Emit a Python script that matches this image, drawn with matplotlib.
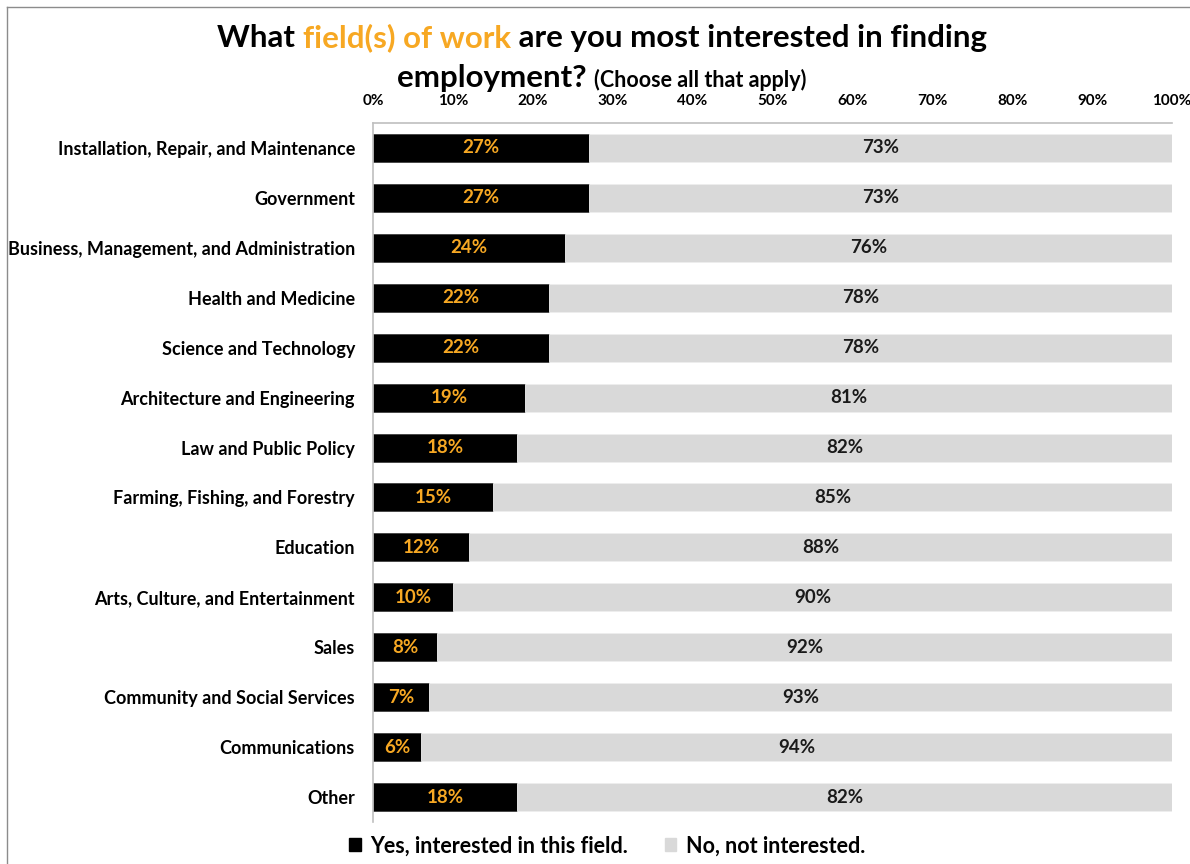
import matplotlib
matplotlib.use("Agg")
import matplotlib.pyplot as plt
from matplotlib.lines import Line2D
from matplotlib.patches import Patch
from matplotlib.ticker import PercentFormatter

plt.rcParams['font.family'] = ['Lato', 'DejaVu Sans']
plt.rcParams['font.weight'] = 'bold'

categories = [
    "Installation, Repair, and Maintenance",
    "Government",
    "Business, Management, and Administration",
    "Health and Medicine",
    "Science and Technology",
    "Architecture and Engineering",
    "Law and Public Policy",
    "Farming, Fishing, and Forestry",
    "Education",
    "Arts, Culture, and Entertainment",
    "Sales",
    "Community and Social Services",
    "Communications",
    "Other",
]
yes_pct = [27, 27, 24, 22, 22, 19, 18, 15, 12, 10, 8, 7, 6, 18]
no_pct = [73, 73, 76, 78, 78, 81, 82, 85, 88, 90, 92, 93, 94, 82]
ticks = [0, 10, 20, 30, 40, 50, 60, 70, 80, 90, 100]

ORANGE = '#F7A823'
GREY = '#D9D9D9'

fig = plt.figure(figsize=(11.9, 8.64), dpi=100)
ax = fig.add_axes([373/1190, 1 - 822/864, (1172-373)/1190, (822-123)/864])

y = list(range(len(categories)))
ax.barh(y, yes_pct, height=0.56, color='black', edgecolor='#404040', linewidth=0.6,
        label='Yes, interested in this field.')
ax.barh(y, no_pct, left=yes_pct, height=0.56, color=GREY, edgecolor='#EEEEEE', linewidth=0.6,
        label='No, not interested.')

for i, (a, b) in enumerate(zip(yes_pct, no_pct)):
    ax.text(a / 2, i, f"{a}%", ha='center', va='center', color=ORANGE,
            fontsize=13.5, fontweight='bold')
    ax.text(a + b / 2, i, f"{b}%", ha='center', va='center', color='#1a1a1a',
            fontsize=13.5, fontweight='bold')

ax.set_xlim(0, 100)
ax.set_ylim(len(categories) - 0.5, -0.5)
ax.set_yticks(y)
ax.set_yticklabels(categories, fontsize=13, fontweight='bold')
ax.set_xticks(ticks)
ax.xaxis.set_major_formatter(PercentFormatter(decimals=0))
ax.xaxis.tick_top()
ax.tick_params(axis='x', length=0, pad=11, labelsize=11)
ax.tick_params(axis='y', length=0, pad=13)
for lbl in ax.get_xticklabels():
    lbl.set_fontweight('bold')
for s in ['right', 'bottom']:
    ax.spines[s].set_visible(False)
ax.spines['top'].set_color('#BFBFBF')
ax.spines['left'].set_color('#BFBFBF')
ax.spines['top'].set_linewidth(1.2)
ax.spines['left'].set_linewidth(1.2)

# Title built from coloured pieces
fig.canvas.draw()
renderer = fig.canvas.get_renderer()

def coloured_line(pieces, y_fig, center_x):
    texts = []
    for txt, color, size in pieces:
        t = fig.text(0, y_fig, txt, color=color, fontsize=size, fontweight='bold',
                     ha='left', va='baseline')
        texts.append(t)
    widths = [t.get_window_extent(renderer).width for t in texts]
    total = sum(widths)
    x = center_x * fig.bbox.width - total / 2
    for t, w in zip(texts, widths):
        t.set_x(x / fig.bbox.width)
        x += w

coloured_line([("What ", 'black', 22.5), ("field(s) of work", ORANGE, 22.5),
               (" are you most interested in finding", 'black', 22.5)],
              1 - 47/864, 602/1190)
coloured_line([("employment? ", 'black', 22.5), ("(Choose all that apply)", 'black', 15.5)],
              1 - 87/864, 602/1190)

handles = [Patch(color='black'), Patch(color=GREY)]
fig.legend(handles, ['Yes, interested in this field.', 'No, not interested.'],
           loc='center', bbox_to_anchor=(607/1190, 1 - 846/864), ncol=2, frameon=False,
           prop={'size': 15.5, 'weight': 'bold'}, handlelength=0.55, handleheight=0.55,
           handletextpad=0.45, columnspacing=1.7)

# Outer frame lines along the top and left edges
fig.add_artist(Line2D([7/1190, 1], [1 - 7/864, 1 - 7/864], color='#8C8C8C', linewidth=1.0,
                      transform=fig.transFigure))
fig.add_artist(Line2D([7/1190, 7/1190], [0, 1 - 7/864], color='#8C8C8C', linewidth=1.0,
                      transform=fig.transFigure))

fig.savefig('out.png', dpi=100)
